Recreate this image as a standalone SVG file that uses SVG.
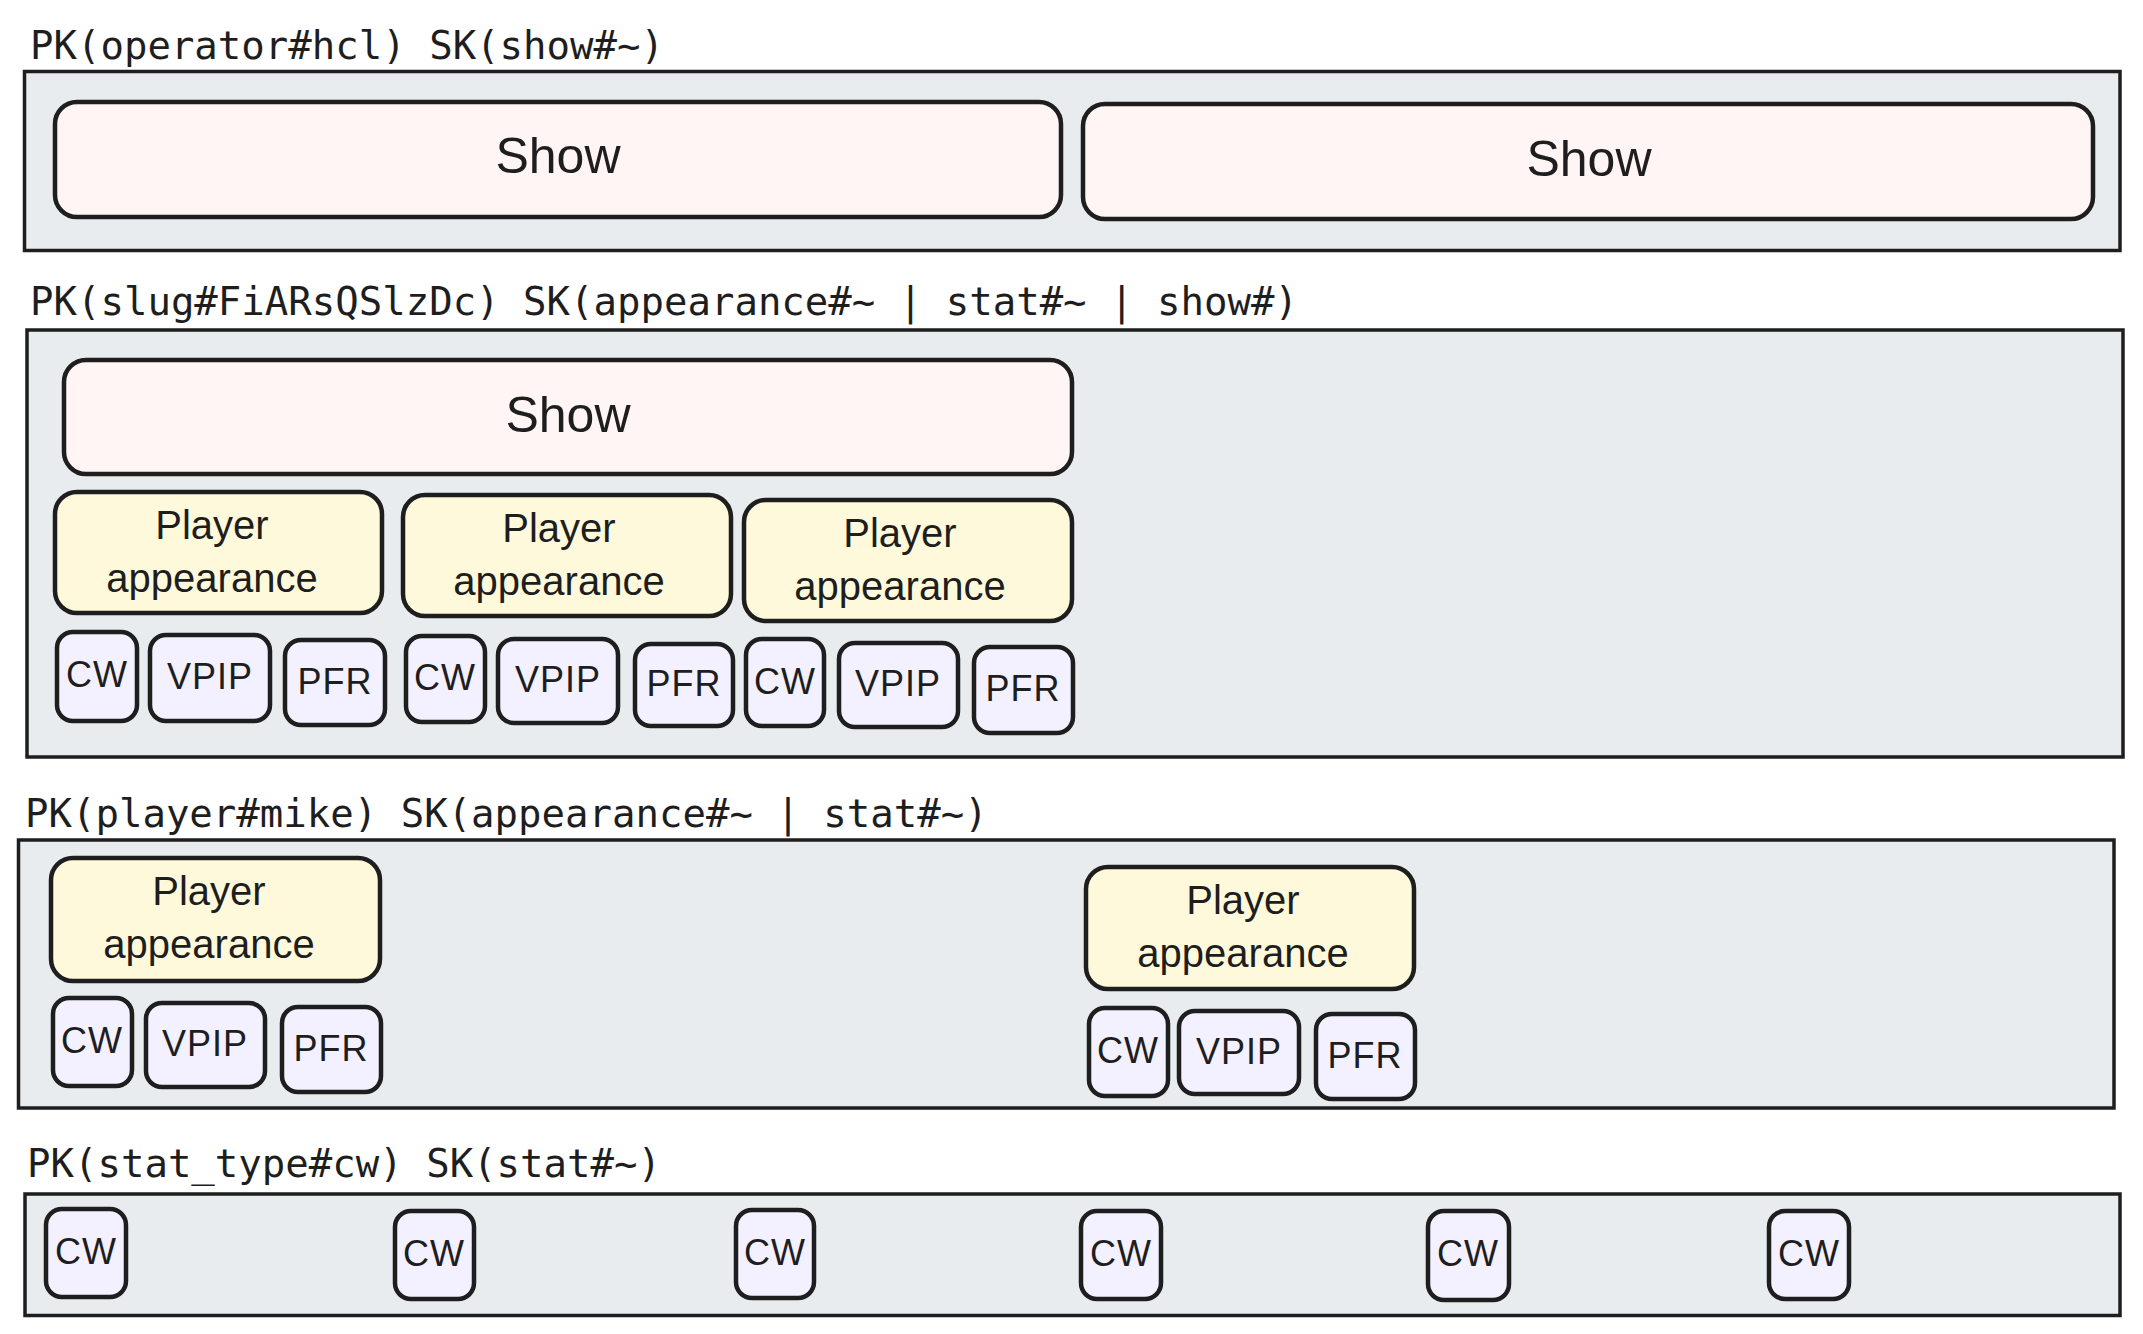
<svg xmlns="http://www.w3.org/2000/svg" width="2143" height="1334" viewBox="0 0 2143 1334">
<style>
.bg{fill:#ffffff}
.frame{fill:#e9ecef;stroke:#1e1e1e;stroke-width:3.5}
.title{font-family:"DejaVu Sans Mono","Liberation Mono",monospace;font-size:39px;fill:#1e1e1e}
.show{fill:#fff5f5;stroke:#1e1e1e;stroke-width:4.5}
.pa{fill:#fff9db;stroke:#1e1e1e;stroke-width:4.5}
.st{fill:#f3f0ff;stroke:#1e1e1e;stroke-width:4.5}
.lshow{font-family:"Liberation Sans","Noto Sans",sans-serif;font-size:50px;fill:#1e1e1e;text-anchor:middle}
.lpa{font-family:"Liberation Sans","Noto Sans",sans-serif;font-size:40px;fill:#1e1e1e;text-anchor:middle}
.lst{font-family:"Liberation Sans","Noto Sans",sans-serif;font-size:36px;fill:#1e1e1e;text-anchor:middle;letter-spacing:1px}
</style>
<rect class="bg" x="0" y="0" width="2143" height="1334"/>

<g id="frame-operator">
<rect class="frame" x="24.5" y="71.5" width="2095.5" height="179"/>
<text class="title" x="30" y="59">PK(operator#hcl) SK(show#~)</text>
</g>
<g id="frame-slug">
<rect class="frame" x="27" y="330" width="2096" height="427"/>
<text class="title" x="30" y="315">PK(slug#FiARsQSlzDc) SK(appearance#~ | stat#~ | show#)</text>
</g>
<g id="frame-player">
<rect class="frame" x="18.5" y="840" width="2095.5" height="268"/>
<text class="title" x="25" y="827">PK(player#mike) SK(appearance#~ | stat#~)</text>
</g>
<g id="frame-stat-type">
<rect class="frame" x="25" y="1194" width="2095" height="121.5"/>
<text class="title" x="27" y="1177">PK(stat_type#cw) SK(stat#~)</text>
</g>

<g id="show-1"><rect class="show" x="55" y="102" width="1006" height="115" rx="22"/><text class="lshow" x="558" y="173">Show</text></g>
<g id="show-2"><rect class="show" x="1083" y="104" width="1010" height="115" rx="22"/><text class="lshow" x="1589" y="176">Show</text></g>
<g id="show-3"><rect class="show" x="64" y="360" width="1008" height="114" rx="22"/><text class="lshow" x="568" y="432">Show</text></g>

<g id="pa-1"><rect class="pa" x="55" y="492" width="327" height="121" rx="22"/><text class="lpa" x="212" y="539">Player</text><text class="lpa" x="212" y="592">appearance</text></g>
<g id="pa-2"><rect class="pa" x="403" y="495" width="328" height="121" rx="22"/><text class="lpa" x="559" y="542">Player</text><text class="lpa" x="559" y="595">appearance</text></g>
<g id="pa-3"><rect class="pa" x="744" y="500" width="328" height="121" rx="22"/><text class="lpa" x="900" y="547">Player</text><text class="lpa" x="900" y="600">appearance</text></g>

<g id="cw-1"><rect class="st" x="57" y="632" width="80" height="89" rx="16"/><text class="lst" x="97" y="687">CW</text></g>
<g id="vpip-1"><rect class="st" x="150" y="635" width="120" height="86" rx="16"/><text class="lst" x="210" y="689">VPIP</text></g>
<g id="pfr-1"><rect class="st" x="285" y="640" width="100" height="85" rx="16"/><text class="lst" x="335" y="694">PFR</text></g>
<g id="cw-2"><rect class="st" x="406" y="636" width="79" height="86" rx="16"/><text class="lst" x="445" y="690">CW</text></g>
<g id="vpip-2"><rect class="st" x="498" y="639" width="120" height="84" rx="16"/><text class="lst" x="558" y="692">VPIP</text></g>
<g id="pfr-2"><rect class="st" x="635" y="644" width="98" height="82" rx="16"/><text class="lst" x="684" y="696">PFR</text></g>
<g id="cw-3"><rect class="st" x="746" y="639" width="78" height="87" rx="16"/><text class="lst" x="785" y="694">CW</text></g>
<g id="vpip-3"><rect class="st" x="839" y="643" width="119" height="84" rx="16"/><text class="lst" x="898" y="696">VPIP</text></g>
<g id="pfr-3"><rect class="st" x="974" y="647" width="99" height="86" rx="16"/><text class="lst" x="1023" y="701">PFR</text></g>

<g id="pa-a"><rect class="pa" x="51" y="858" width="329" height="123" rx="22"/><text class="lpa" x="209" y="905">Player</text><text class="lpa" x="209" y="958">appearance</text></g>
<g id="pa-b"><rect class="pa" x="1086" y="867" width="328" height="122" rx="22"/><text class="lpa" x="1243" y="914">Player</text><text class="lpa" x="1243" y="967">appearance</text></g>

<g id="cw-a"><rect class="st" x="53" y="998" width="79" height="88" rx="16"/><text class="lst" x="92" y="1053">CW</text></g>
<g id="vpip-a"><rect class="st" x="146" y="1003" width="119" height="84" rx="16"/><text class="lst" x="205" y="1056">VPIP</text></g>
<g id="pfr-a"><rect class="st" x="282" y="1007" width="99" height="85" rx="16"/><text class="lst" x="331" y="1061">PFR</text></g>
<g id="cw-b"><rect class="st" x="1089" y="1008" width="79" height="88" rx="16"/><text class="lst" x="1128" y="1063">CW</text></g>
<g id="vpip-b"><rect class="st" x="1179" y="1011" width="120" height="83" rx="16"/><text class="lst" x="1239" y="1064">VPIP</text></g>
<g id="pfr-b"><rect class="st" x="1316" y="1014" width="99" height="85" rx="16"/><text class="lst" x="1365" y="1068">PFR</text></g>

<g id="cw-s1"><rect class="st" x="46" y="1209" width="80" height="88" rx="16"/><text class="lst" x="86" y="1264">CW</text></g>
<g id="cw-s2"><rect class="st" x="395" y="1211" width="79" height="88" rx="16"/><text class="lst" x="434" y="1266">CW</text></g>
<g id="cw-s3"><rect class="st" x="736" y="1210" width="78" height="88" rx="16"/><text class="lst" x="775" y="1265">CW</text></g>
<g id="cw-s4"><rect class="st" x="1081" y="1211" width="80" height="88" rx="16"/><text class="lst" x="1121" y="1266">CW</text></g>
<g id="cw-s5"><rect class="st" x="1428" y="1211" width="81" height="89" rx="16"/><text class="lst" x="1468" y="1266">CW</text></g>
<g id="cw-s6"><rect class="st" x="1769" y="1211" width="80" height="88" rx="16"/><text class="lst" x="1809" y="1266">CW</text></g>

<g id="connectors"/>
</svg>
